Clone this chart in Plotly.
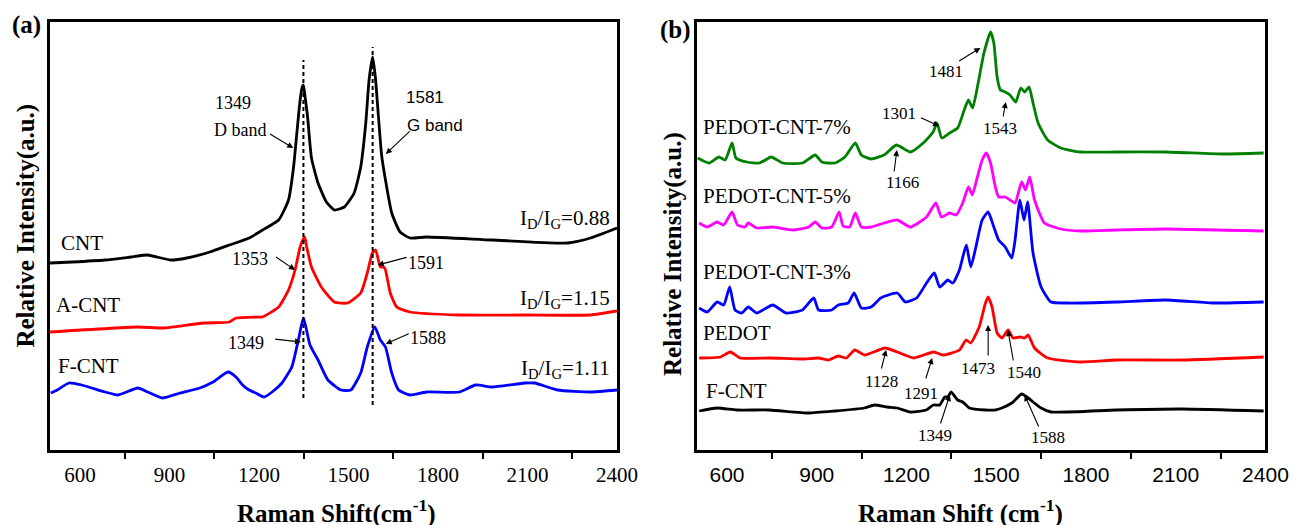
import plotly.graph_objects as go

W, H = 1314, 525

# ---------------- panel (a): CNT, A-CNT, F-CNT ----------------
cnt_shift = [500, 574, 684, 771, 827, 903, 958, 1035, 1101, 1167, 1212, 1266, 1299, 1316, 1327, 1338,
             1345, 1349, 1355, 1363, 1376, 1398, 1426, 1453, 1486, 1519, 1541, 1558, 1569, 1581,
             1590, 1600, 1611, 1624, 1645, 1673, 1706, 1760, 1981, 2235, 2311, 2400]
cnt_int = [187, 188, 190, 193, 195, 190, 192, 198, 205, 212, 220, 230, 250, 283, 317, 350,
           363, 365, 352, 333, 292, 267, 248, 240, 243, 257, 283, 327, 370, 393,
           373, 335, 295, 270, 237, 218, 212, 213, 210, 207, 212, 222]

acnt_shift = [500, 794, 881, 1013, 1101, 1123, 1189, 1211, 1266, 1299, 1321, 1338, 1353, 1360,
              1376, 1409, 1453, 1497, 1541, 1563, 1580, 1591, 1607, 1618, 1624, 1640, 1662,
              1706, 1871, 2090, 2311, 2400]
acnt_int = [118, 123, 122, 127, 128, 132, 133, 133, 143, 160, 180, 203, 213, 203,
            183, 163, 148, 147, 157, 177, 197, 200, 183, 183, 180, 157, 143,
            138, 135, 135, 135, 139]

fcnt_a_shift = [502, 524, 563, 606, 684, 728, 794, 827, 876, 936, 1002, 1046, 1096, 1123, 1145,
                1167, 1189, 1217, 1244, 1277, 1310, 1332, 1349, 1371, 1398, 1431, 1475, 1508,
                1541, 1563, 1588, 1607, 1624, 1645, 1668, 1706, 1761, 1871, 1926, 1981, 2091,
                2124, 2201, 2311, 2400]
fcnt_a_int = [57, 60, 67, 65, 58, 55, 62, 58, 52, 57, 62, 68, 78, 73, 65,
              60, 57, 53, 58, 67, 83, 110, 132, 105, 90, 70, 60, 60,
              77, 103, 123, 110, 103, 77, 60, 55, 58, 58, 65, 63, 67,
              67, 60, 58, 60]

# D and G band guide lines
band_pos = [1349, 1581]
band_low = [52, 45]
band_high = [390, 403]

# ---------------- panel (b): PEDOT composites ----------------
fcnt_b_shift = [507, 567, 633, 741, 873, 961, 1059, 1092, 1135, 1169, 1213, 1266, 1290, 1311, 1328,
                1338, 1349, 1371, 1388, 1410, 1464, 1497, 1519, 1552, 1563, 1585, 1607, 1623,
                1650, 1683, 1902, 2121, 2394]
fcnt_b_int = [39, 42, 40, 40, 37, 39, 42, 45, 43, 42, 38, 40, 45, 45, 53,
              53, 58, 50, 48, 42, 40, 40, 42, 47, 50, 56, 52, 48,
              42, 38, 40, 41, 39]

pedot_shift = [507, 578, 611, 644, 742, 852, 906, 939, 972, 999, 1027, 1060, 1128, 1169, 1224,
               1291, 1322, 1377, 1399, 1415, 1443, 1464, 1473, 1486, 1503, 1519, 1540, 1556,
               1579, 1595, 1607, 1628, 1672, 1782, 1902, 2121, 2394]
pedot_int = [92, 93, 98, 92, 92, 91, 92, 90, 94, 92, 100, 95, 102, 98, 92,
             98, 95, 100, 110, 107, 123, 147, 153, 143, 117, 112, 120, 112,
             113, 112, 115, 102, 92, 88, 90, 90, 93]

pc3_shift = [507, 534, 567, 589, 609, 627, 649, 671, 699, 753, 797, 852, 890, 906, 950, 972, 1005,
             1025, 1049, 1082, 1114, 1169, 1196, 1234, 1267, 1293, 1311, 1338, 1355, 1377, 1400,
             1415, 1432, 1453, 1473, 1492, 1508, 1530, 1552, 1563, 1579, 1593, 1605, 1623, 1650,
             1683, 1738, 1902, 2066, 2230, 2394]
pc3_int = [142, 138, 148, 145, 163, 140, 137, 143, 137, 145, 137, 140, 152, 140, 140, 145, 147,
           157, 142, 143, 152, 157, 148, 152, 167, 177, 163, 170, 167, 180, 205,
           183, 203, 230, 238, 223, 210, 203, 192, 210, 250, 230, 248, 197, 163,
           148, 147, 148, 150, 147, 148]

pc5_shift = [507, 534, 567, 589, 617, 635, 660, 671, 699, 753, 819, 873, 895, 917, 950, 975, 988,
             1010, 1029, 1049, 1082, 1125, 1169, 1213, 1267, 1298, 1317, 1344, 1366, 1388, 1407,
             1420, 1437, 1453, 1467, 1481, 1497, 1508, 1530, 1546, 1563, 1585, 1598, 1612, 1628,
             1661, 1716, 1782, 1902, 2066, 2394]
pc5_int = [227, 223, 228, 225, 238, 225, 223, 227, 222, 223, 220, 223, 228, 222, 223, 238, 224,
           223, 237, 223, 223, 227, 230, 223, 233, 247, 233, 237, 235, 247, 263,
           255, 273, 290, 297, 287, 263, 253, 253, 250, 247, 268, 260, 273, 250,
           227, 221, 219, 220, 221, 219]

pc7_shift = [502, 540, 573, 594, 617, 630, 666, 709, 748, 786, 852, 895, 917, 961, 994, 1029, 1049,
             1082, 1125, 1166, 1213, 1256, 1289, 1302, 1318, 1344, 1371, 1393, 1407, 1421, 1437,
             1459, 1481, 1492, 1503, 1514, 1530, 1546, 1565, 1582, 1595, 1610, 1623, 1640, 1672,
             1716, 1782, 1902, 2066, 2263, 2394]
pc7_int = [292, 287, 293, 290, 307, 292, 288, 287, 293, 287, 287, 295, 288, 287, 293, 307, 295,
           291, 295, 305, 298, 307, 318, 327, 312, 317, 322, 340, 350, 342, 363,
           397, 418, 407, 373, 360, 358, 355, 348, 362, 358, 363, 347, 327, 310,
           302, 298, 298, 298, 296, 297]

tick_vals = [600, 900, 1200, 1500, 1800, 2100, 2400]
minor_vals = [750, 1050, 1350, 1650, 1950, 2250]

SERIF = "Liberation Serif"
SANS = "Liberation Sans"
LW = 2.8


def px(x):
    return x / W


def py(y):
    return 1 - y / H


fig = go.Figure()


def spectrum(xs, ys, color, axis):
    fig.add_trace(go.Scatter(x=xs, y=ys, mode="lines",
                             line=dict(color=color, width=LW, shape="spline", smoothing=0.5),
                             xaxis="x" if axis == 1 else "x2", yaxis="y" if axis == 1 else "y2",
                             showlegend=False, hoverinfo="skip"))


spectrum(cnt_shift, cnt_int, "black", 1)
spectrum(acnt_shift, acnt_int, "red", 1)
spectrum(fcnt_a_shift, fcnt_a_int, "blue", 1)
for pos, lo, hi in zip(band_pos, band_low, band_high):
    fig.add_trace(go.Scatter(x=[pos, pos], y=[lo, hi], mode="lines",
                             line=dict(color="black", width=2, dash="4px,3px"),
                             xaxis="x", yaxis="y", showlegend=False, hoverinfo="skip"))

spectrum(fcnt_b_shift, fcnt_b_int, "black", 2)
spectrum(pedot_shift, pedot_int, "red", 2)
spectrum(pc3_shift, pc3_int, "blue", 2)
spectrum(pc5_shift, pc5_int, "magenta", 2)
spectrum(pc7_shift, pc7_int, "green", 2)


def xaxis(dom, fam):
    return dict(range=[500, 2400], domain=dom, showline=True, linewidth=2.5, linecolor="black",
                mirror=True, showgrid=False, zeroline=False, ticks="", tickmode="array",
                tickvals=tick_vals, ticklabelstandoff=4,
                tickfont=dict(family=fam, size=21, color="black"),
                minor=dict(ticks="outside", tickmode="array", tickvals=minor_vals,
                           ticklen=6, tickwidth=2, tickcolor="black"))


def yaxis(anchor):
    return dict(range=[0, 428], domain=[py(450), py(22)], showline=True, linewidth=2.5,
                linecolor="black", mirror=True, showgrid=False, zeroline=False,
                showticklabels=False, ticks="", anchor=anchor)


ann = []


def text(xp, yp, s, size, fam=SERIF, xanchor="center", yanchor="middle", bold=False, angle=0):
    ann.append(dict(x=px(xp), y=py(yp), xref="paper", yref="paper", text=s, showarrow=False,
                    xanchor=xanchor, yanchor=yanchor, textangle=angle,
                    font=dict(family=fam, size=size, color="black",
                              weight="bold" if bold else "normal")))


def arrow(axis, hx, hy, tx, ty):
    xr, yr = ("x", "y") if axis == 1 else ("x2", "y2")
    ann.append(dict(x=hx, y=hy, xref=xr, yref=yr, ax=tx, ay=ty, axref=xr, ayref=yr, text="",
                    showarrow=True, arrowhead=2, arrowsize=1.1, arrowwidth=1.1,
                    arrowcolor="black"))


# panel titles and axis titles
text(27, 25, "(a)", 25, bold=True)
text(688, 30, "(b)", 25, bold=True)
text(342, 511, "Raman Shift(cm<sup>-1</sup>)", 25, bold=True)
text(978, 511, "Raman Shift (cm<sup>-1</sup>)", 25, bold=True)
text(26, 226, "Relative Intensity(a.u.)", 25, bold=True, angle=-90)
text(685, 254, "Relative Intensity(a.u.)", 25, bold=True, angle=-90)

# panel (a) labels
text(60, 243, "CNT", 21, xanchor="left")
text(55, 305, "A-CNT", 21, xanchor="left")
text(57, 366, "F-CNT", 21, xanchor="left")
text(237, 103, "1349", 18)
text(245, 130, "D band", 18)
text(433, 98, "1581", 17, fam=SANS)
text(443, 125, "G band", 17, fam=SANS)
text(254, 259, "1353", 18)
text(250, 343, "1349", 18)
text(434, 263, "1591", 18)
text(436, 338, "1588", 18)
text(623, 219, "I<sub>D</sub>/I<sub>G</sub>=0.88", 21, xanchor="right")
text(623, 299, "I<sub>D</sub>/I<sub>G</sub>=1.15", 21, xanchor="right")
text(623, 369, "I<sub>D</sub>/I<sub>G</sub>=1.11", 21, xanchor="right")
arrow(1, 1315, 302, 1232, 317)
arrow(1, 1625, 296, 1710, 320)
arrow(1, 1321, 180, 1252, 194)
arrow(1, 1341, 108, 1249, 111)
arrow(1, 1598, 185, 1700, 193)
arrow(1, 1625, 106, 1707, 117)

# panel (b) labels
text(713, 127, "PEDOT-CNT-7%", 21, xanchor="left")
text(713, 196, "PEDOT-CNT-5%", 21, xanchor="left")
text(713, 272, "PEDOT-CNT-3%", 21, xanchor="left")
text(713, 333, "PEDOT", 21, xanchor="left")
text(717, 391, "F-CNT", 21, xanchor="left")
for s, xx, yy in [("1481", 963, 72), ("1301", 915, 114), ("1543", 1018, 128), ("1166", 919, 183),
                  ("1128", 897, 381), ("1291", 937, 393), ("1349", 952, 435), ("1473", 995, 368),
                  ("1540", 1042, 372), ("1588", 1067, 437)]:
    text(xx, yy, s, 17)
arrow(2, 1447, 402, 1371, 388)
arrow(2, 1309, 324, 1243, 333)
arrow(2, 1532, 348, 1522, 332)
arrow(2, 1168, 300, 1158, 277)
arrow(2, 1132, 100, 1115, 80)
arrow(2, 1286, 92, 1263, 70)
arrow(2, 1345, 55, 1312, 25)
arrow(2, 1473, 125, 1473, 93)
arrow(2, 1539, 120, 1558, 88)
arrow(2, 1595, 55, 1644, 22)

fig.update_layout(
    width=W, height=H, margin=dict(l=0, r=0, t=0, b=0),
    paper_bgcolor="white", plot_bgcolor="white",
    xaxis=xaxis([px(51), px(628)], SERIF), yaxis=yaxis("x"),
    xaxis2=xaxis([px(709.5), px(1288)], SANS), yaxis2=yaxis("x2"),
    annotations=ann,
)
fig.write_html("out.html")
